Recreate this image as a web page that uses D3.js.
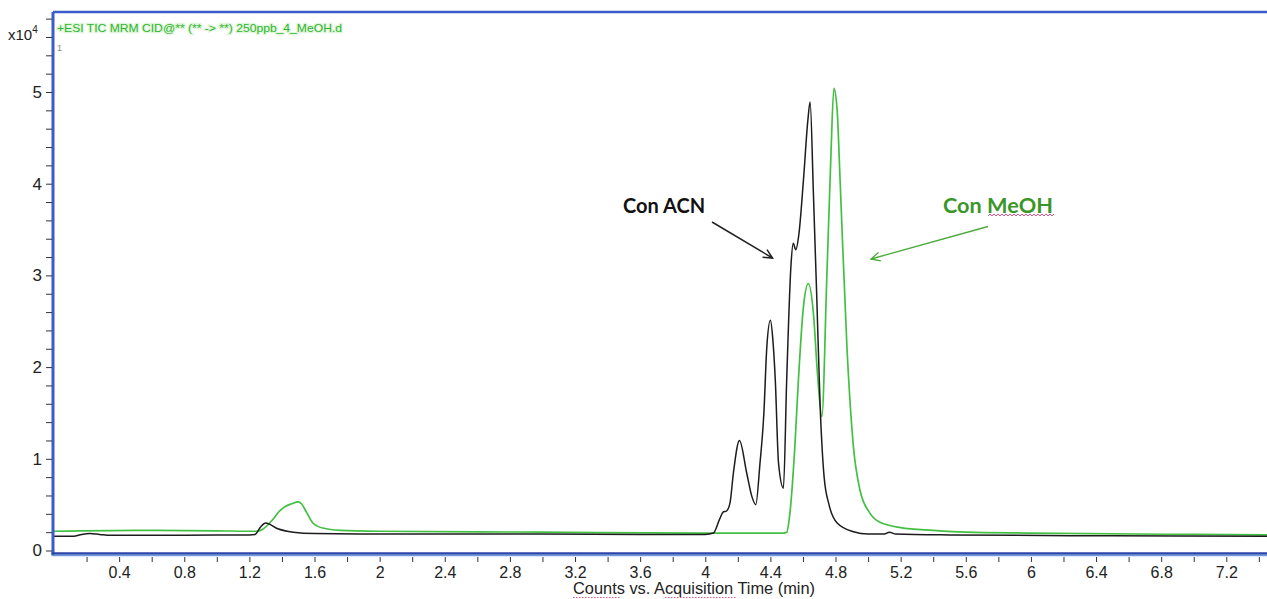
<!DOCTYPE html>
<html>
<head>
<meta charset="utf-8">
<script src="https://cdn.jsdelivr.net/npm/d3@7"></script>
<style>
  html, body { margin: 0; padding: 0; background: #ffffff; }
  svg { display: block; }
</style>
</head>
<body>
<svg id="chart" width="1267" height="599"></svg>
<script>
// Retention time (min) and TIC counts (x10^4) for the two mobile phases
const acnTime = [0, 0.12, 0.17, 0.22, 0.28, 0.35, 0.6, 1.0, 1.2, 1.235, 1.27, 1.30, 1.37, 1.47, 1.6, 2.0, 3.0, 3.6, 4.0, 4.05,
  4.09, 4.11, 4.13, 4.152, 4.173, 4.21, 4.255, 4.286, 4.31, 4.336, 4.36, 4.378, 4.40, 4.415, 4.43, 4.45, 4.48,
  4.50, 4.527, 4.54, 4.556, 4.575, 4.603, 4.63, 4.644, 4.664, 4.685, 4.705, 4.73, 4.76, 4.81, 4.91, 5.0, 5.1,
  5.13, 5.17, 5.5, 6.5, 7.45];
const acnCounts = [0.155, 0.155, 0.175, 0.185, 0.175, 0.165, 0.165, 0.17, 0.17, 0.175, 0.26, 0.30, 0.24, 0.20, 0.185, 0.18, 0.18, 0.175, 0.175, 0.19,
  0.35, 0.42, 0.43, 0.52, 0.85, 1.20, 0.84, 0.59, 0.50, 0.95, 1.50, 2.22, 2.51, 2.30, 1.86, 0.95, 0.68,
  1.86, 3.13, 3.35, 3.28, 3.45, 4.04, 4.69, 4.89, 3.9, 2.75, 1.6, 0.8, 0.5, 0.30, 0.205, 0.18, 0.18,
  0.20, 0.18, 0.17, 0.16, 0.155];

const meohTime = [0, 0.5, 1.0, 1.2, 1.245, 1.28, 1.34, 1.38, 1.42, 1.46, 1.50, 1.52, 1.55, 1.59, 1.65, 1.76, 2.0, 3.0, 4.0, 4.48,
  4.50, 4.52, 4.55, 4.572, 4.603, 4.633, 4.664, 4.689, 4.716, 4.746, 4.77, 4.79, 4.81, 4.828, 4.87, 4.91, 4.95,
  5.01, 5.07, 5.2, 5.4, 5.6, 6.0, 7.0, 7.45];
const meohCounts = [0.21, 0.22, 0.215, 0.21, 0.21, 0.23, 0.33, 0.42, 0.48, 0.51, 0.53, 0.51, 0.42, 0.30, 0.245, 0.22, 0.21, 0.20, 0.19, 0.19,
  0.20, 0.41, 1.13, 1.86, 2.66, 2.91, 2.59, 1.93, 1.46, 2.95, 4.22, 5.04, 4.8, 4.04, 2.22, 1.13, 0.66,
  0.41, 0.31, 0.25, 0.22, 0.20, 0.19, 0.175, 0.17];

const xTicks = d3.range(1, 38).map(i => +(i * 0.2).toFixed(1));
const yTicks = d3.range(0, 30).map(i => +(i * 0.2).toFixed(1));
const yLabels = [0, 1, 2, 3, 4, 5];

const traceTitle = "+ESI TIC MRM CID@** (** -> **) 250ppb_4_MeOH.d";
const xTitle = "Counts vs. Acquisition Time (min)";

const svg = d3.select("#chart");
const frameLeft = 53, frameTop = 12, frameRight = 1267, frameBottom = 554;

const x = d3.scaleLinear().domain([0, 7.45]).range([54, 1267]);
const y = d3.scaleLinear().domain([0, 5]).range([550.5, 92]);

// plot traces
const line = d3.line()
  .x(d => x(d[0]))
  .y(d => y(d[1]))
  .curve(d3.curveMonotoneX);

svg.append("clipPath").attr("id", "plotClip")
  .append("rect").attr("x", frameLeft + 1).attr("y", frameTop)
  .attr("width", frameRight - frameLeft).attr("height", frameBottom - frameTop);

const plot = svg.append("g").attr("clip-path", "url(#plotClip)");

plot.append("path")
  .datum(d3.zip(meohTime, meohCounts))
  .attr("d", line)
  .attr("fill", "none")
  .attr("stroke", "#43c043")
  .attr("stroke-width", 1.7)
  .attr("stroke-linejoin", "round");

plot.append("path")
  .datum(d3.zip(acnTime, acnCounts))
  .attr("d", line)
  .attr("fill", "none")
  .attr("stroke", "#1c1c1c")
  .attr("stroke-width", 1.5)
  .attr("stroke-linejoin", "round");

// frame
svg.append("line").attr("x1", frameLeft).attr("x2", frameRight).attr("y1", frameTop).attr("y2", frameTop)
  .attr("stroke", "#3a5ccc").attr("stroke-width", 2.5);
svg.append("line").attr("x1", frameLeft).attr("x2", frameLeft).attr("y1", frameTop).attr("y2", frameBottom + 1)
  .attr("stroke", "#3a5ccc").attr("stroke-width", 3);
svg.append("line").attr("x1", frameLeft - 1.5).attr("x2", frameRight).attr("y1", frameBottom - 0.5).attr("y2", frameBottom - 0.5)
  .attr("stroke", "#2a44a8").attr("stroke-width", 2.5);
svg.append("line").attr("x1", frameLeft - 1.5).attr("x2", frameRight).attr("y1", frameBottom + 1.5).attr("y2", frameBottom + 1.5)
  .attr("stroke", "#6f9ae0").attr("stroke-width", 1.5);

// x axis
const xAxis = d3.axisBottom(x)
  .tickValues(xTicks)
  .tickSize(5)
  .tickPadding(5)
  .tickFormat(d => (Math.round(d * 5) % 2 === 0) ? String(+d.toFixed(1)) : "");
const gx = svg.append("g").attr("transform", `translate(0,${frameBottom + 3})`).call(xAxis);
gx.select(".domain").remove();
gx.selectAll(".tick line").attr("stroke", "#333");
gx.selectAll(".tick text")
  .attr("fill", "#222")
  .style("font-family", "'Liberation Sans Narrow', 'Arial Narrow', 'Liberation Sans', Arial, sans-serif")
  .style("font-size", "16px");

// y axis
const yAxis = d3.axisLeft(y)
  .tickValues(yTicks)
  .tickSize(6)
  .tickPadding(4)
  .tickFormat(d => yLabels.includes(d) ? String(d) : "");
const gy = svg.append("g").attr("transform", `translate(${frameLeft - 1},0)`).call(yAxis);
gy.select(".domain").remove();
gy.selectAll(".tick line").attr("stroke", "#333");
gy.selectAll(".tick text")
  .attr("fill", "#222")
  .style("font-family", "'Liberation Sans', Arial, sans-serif")
  .style("font-size", "17px");

// exponent label
const expo = svg.append("text").attr("x", 8).attr("y", 40)
  .style("font-family", "'Liberation Sans', Arial, sans-serif").style("font-size", "15px").attr("fill", "#222");
expo.append("tspan").text("x10");
expo.append("tspan").attr("dy", -7).style("font-size", "10px").text("4");

// trace title
svg.append("text").attr("x", 57).attr("y", 32)
  .attr("textLength", 285).attr("lengthAdjust", "spacingAndGlyphs")
  .style("font-family", "'Liberation Sans', Arial, sans-serif").style("font-size", "11px")
  .style("paint-order", "stroke")
  .attr("stroke", "#e2f5dc").attr("stroke-width", 2.5)
  .attr("fill", "#2fb52f")
  .text(traceTitle);
svg.append("text").attr("x", 57).attr("y", 51)
  .style("font-family", "'Liberation Sans', Arial, sans-serif").style("font-size", "9px")
  .attr("fill", "#888").text("1");

// x axis title
svg.append("text").attr("x", 573).attr("y", 594)
  .attr("textLength", 242).attr("lengthAdjust", "spacingAndGlyphs")
  .style("font-family", "'Liberation Sans Narrow', 'Arial Narrow', 'Liberation Sans', Arial, sans-serif")
  .style("font-size", "16px").attr("fill", "#222")
  .text(xTitle);

// dotted spell-check marks under two words
[[573, 621], [665, 736]].forEach(([a, b]) => {
  svg.append("line").attr("x1", a).attr("x2", b).attr("y1", 597.5).attr("y2", 597.5)
    .attr("stroke", "#e05a8a").attr("stroke-width", 1.2).attr("stroke-dasharray", "1.5,1.5");
});

// annotations
function arrow(x1, y1, x2, y2, color, w) {
  const ang = Math.atan2(y2 - y1, x2 - x1);
  const len = 10, spread = 0.45;
  const p1 = [x2 - len * Math.cos(ang - spread), y2 - len * Math.sin(ang - spread)];
  const p2 = [x2 - len * Math.cos(ang + spread), y2 - len * Math.sin(ang + spread)];
  svg.append("line").attr("x1", x1).attr("y1", y1).attr("x2", x2).attr("y2", y2)
    .attr("stroke", color).attr("stroke-width", w);
  svg.append("path").attr("d", `M${p1[0]},${p1[1]}L${x2},${y2}L${p2[0]},${p2[1]}`)
    .attr("fill", "none").attr("stroke", color).attr("stroke-width", w).attr("stroke-linejoin", "miter");
}

svg.append("text").attr("x", 623).attr("y", 213)
  .style("font-family", "Lato, 'Open Sans', sans-serif").style("font-weight", "bold").style("font-size", "20px")
  .attr("fill", "#111").text("Con ACN");
arrow(712, 222, 772.5, 258, "#222", 1.5);

svg.append("text").attr("x", 943).attr("y", 213)
  .attr("textLength", 110).attr("lengthAdjust", "spacingAndGlyphs")
  .style("font-family", "Lato, 'Open Sans', sans-serif").style("font-weight", "bold").style("font-size", "20px")
  .attr("fill", "#3b962a").text("Con MeOH");
// wavy underline beneath "MeOH"
const wave = d3.range(0, 34).map(i => [988 + i * 2, 215 + (i % 2 ? -1 : 1)]);
svg.append("path").attr("d", d3.line()(wave)).attr("fill", "none")
  .attr("stroke", "#e0457a").attr("stroke-width", 0.9);
arrow(988, 226.5, 871, 259, "#4aaa3a", 1.3);
</script>
</body>
</html>
